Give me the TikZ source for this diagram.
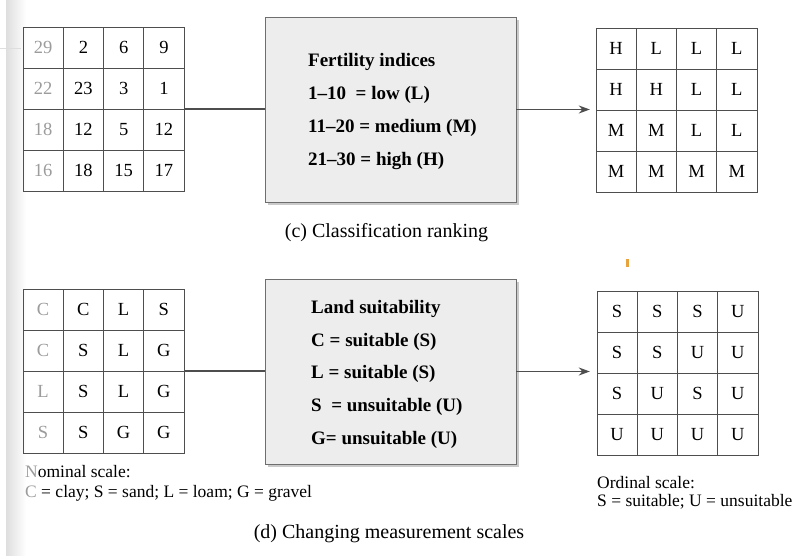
\documentclass[tikz,border=0pt]{standalone}
\usepackage{fontspec}
\setmainfont{Liberation Serif}
\usetikzlibrary{arrows.meta,shadows}

\definecolor{rule}{HTML}{4E4E4E}
\definecolor{fade}{HTML}{9C9C9C}
\definecolor{boxfill}{HTML}{EDEDED}
\definecolor{boxline}{HTML}{6E6E6E}
\definecolor{shadowgray}{HTML}{BDBDBD}
\definecolor{gutter}{HTML}{DEDEDE}
\definecolor{speck}{HTML}{E9A33E}

\tikzset{
  cell/.style={draw=rule, line width=0.9pt, minimum width=40.25pt, minimum height=41pt,
    inner sep=0pt, font=\fontsize{18.5}{20}\selectfont},
  gridframe/.style={minimum width=161pt, minimum height=164pt, inner sep=0pt},
  rulebox/.style={draw=boxline, fill=boxfill, line width=0.9pt, inner sep=0pt,
    minimum width=251pt, minimum height=185pt,
    drop shadow={shadow xshift=3pt, shadow yshift=-3pt, fill=shadowgray, opacity=0.8}},
  boxtext/.style={anchor=base west, inner sep=0pt, font=\fontsize{19}{22}\selectfont\bfseries},
  caption/.style={anchor=base, inner sep=0pt, font=\fontsize{20}{24}\selectfont},
  note/.style={anchor=base west, inner sep=0pt, font=\fontsize{17.5}{20}\selectfont},
  link/.style={draw=rule, line width=1.1pt},
  arrowlink/.style={link, -{Stealth[length=11pt,width=8pt,inset=3.5pt]}}
}

% 4x4 grid of cells: name, left x, top y, colour of first column, rows
\newcommand{\cellgrid}[5]{%
  \node[gridframe] (#1) at (#2+80.5, #3+82) {};
  \foreach \row [count=\r] in {#5} {
    \foreach \v [count=\c] in \row {
      \node[cell] (#1-\r-\c) at (#2+\c*40.25-20.125, #3+\r*41-20.5)
        {\ifnum\c=1 \color{#4}\fi\v};
    }
  }
}

\begin{document}
\begin{tikzpicture}[x=1pt, y=-1pt]
  \useasboundingbox (0,0) rectangle (809,556);
  \fill[white] (0,0) rectangle (809,556);
  % page gutter
  \shade[left color=gutter, right color=white] (6,0) rectangle (26,556);
  \draw[gutter, line width=0.8pt] (0,48) -- (21,48);
  \fill[speck] (625.5,259) rectangle (629,267);

  % (c) classification ranking
  \cellgrid{g1}{23}{27}{fade}{{29,2,6,9},{22,23,3,1},{18,12,5,12},{16,18,15,17}}
  \node[rulebox] (box1) at (390.5,109.5) {};
  \node[boxtext] (f0) at (308,67) {Fertility indices};
  \node[boxtext] (f1) at (308,100) {1\textendash10\ \ = low (L)};
  \node[boxtext] (f2) at (308,133) {11\textendash20 = medium (M)};
  \node[boxtext] (f3) at (308,166) {21\textendash30 = high (H)};
  \cellgrid{g2}{596}{28}{black}{{H,L,L,L},{H,H,L,L},{M,M,L,L},{M,M,M,M}}
  \coordinate (t1) at ([xshift=-6pt]g2.west);
  \draw[link] (g1.east) -- (g1.east -| box1.west);
  \draw[arrowlink] (box1.east) -- (box1.east -| t1);
  \node[caption] (capc) at (386.5,238) {(c) Classification ranking};

  % (d) changing measurement scales
  \cellgrid{g3}{23}{289}{fade}{{C,C,L,S},{C,S,L,G},{L,S,L,G},{S,S,G,G}}
  \node[rulebox] (box2) at (390.5,371.5) {};
  \node[boxtext] (s0) at (311,313) {Land suitability};
  \node[boxtext] (s1) at (311,346) {C = suitable (S)};
  \node[boxtext] (s2) at (311,378) {L = suitable (S)};
  \node[boxtext] (s3) at (311,411) {S\ \ = unsuitable (U)};
  \node[boxtext] (s4) at (311,444) {G= unsuitable (U)};
  \cellgrid{g4}{597}{291}{black}{{S,S,S,U},{S,S,U,U},{S,U,S,U},{U,U,U,U}}
  \coordinate (t2) at ([xshift=-7pt]g4.west);
  \draw[link] (g3.east) -- (g3.east -| box2.west);
  \draw[arrowlink] (box2.east) -- (box2.east -| t2);

  \node[note] (nom0) at (25,477) {{\color{fade}N}ominal scale:};
  \node[note] (nom1) at (25,497) {{\color{fade}C} = clay; S = sand; L = loam; G = gravel};
  \node[note] (ord0) at (597,488) {Ordinal scale:};
  \node[note] (ord1) at (597,506) {S = suitable; U = unsuitable};
  \node[caption] (capd) at (389,538) {(d) Changing measurement scales};
\end{tikzpicture}
\end{document}
